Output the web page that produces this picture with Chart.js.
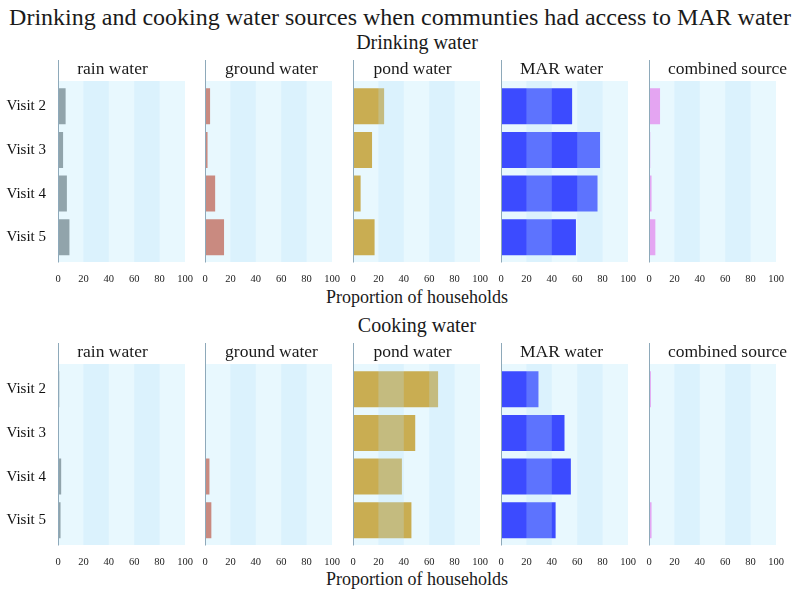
<!DOCTYPE html>
<html>
<head>
<meta charset="utf-8">
<script src="https://cdn.jsdelivr.net/npm/chart.js@4/dist/chart.umd.min.js"></script>
<style>
  body { margin: 0; background: #ffffff; }
  #page { position: relative; width: 800px; height: 593px; overflow: hidden; font-family: 'Liberation Serif', 'Times New Roman', serif; color: #1a1a1a; }
  .lbl { position: absolute; white-space: nowrap; transform: translate(-50%, -50%); line-height: 1; }
  .panel { position: absolute; }
</style>
</head>
<body>
<div id="page">
  <div class="lbl" style="left:400px; top:17px; font-size:24px;">Drinking and cooking water sources when communties had access to MAR water</div>
  <div class="lbl" style="left:417px; top:42px; font-size:20px;">Drinking water</div>
  <div class="lbl" style="left:417px; top:297px; font-size:18px;">Proportion of households</div>
  <div class="lbl" style="left:417px; top:325px; font-size:20px;">Cooking water</div>
  <div class="lbl" style="left:417px; top:579px; font-size:18px;">Proportion of households</div>
</div>
<script>
// Données (proportion des ménages, %)
const visits = ['Visit 2', 'Visit 3', 'Visit 4', 'Visit 5'];
const sources = ['rain water', 'ground water', 'pond water', 'MAR water', 'combined source'];
const sourceColors = ['#91a4ab', '#c98a80', '#c9ad52', '#3c4bff', '#e4a5f2'];
const xTicks = [0, 20, 40, 60, 80, 100];

// Eau de boisson
const drinkRain = [6, 4, 7, 9];
const drinkGround = [4, 2, 8, 15];
const drinkPond = [24.5, 15, 6, 17];
const drinkMar = [56, 78, 76, 59];
const drinkCombined = [8.7, 1, 2, 5];

// Eau de cuisson
const cookRain = [1, 0.5, 2.5, 2];
const cookGround = [0, 0, 3.5, 5];
const cookPond = [67, 49, 38.5, 46];
const cookMar = [29.5, 50, 55, 43];
const cookCombined = [1.5, 0.5, 0, 2];

const drinking = [drinkRain, drinkGround, drinkPond, drinkMar, drinkCombined];
const cooking = [cookRain, cookGround, cookPond, cookMar, cookCombined];

// Mise en page
const axisX = [58, 205, 353, 501, 649];
const rowTop = [56, 338.5];
const titleShift = [-9, 3, -4, -3, 15];
const panelHeight = 245;

Chart.defaults.font.family = "'Liberation Serif', 'Times New Roman', serif";
Chart.defaults.color = '#1a1a1a';

// Bandes de fond + axe vertical + titre du panneau
const bandPlugin = {
    id: 'bands',
    beforeDatasetsDraw(chart) {
        const { ctx, chartArea: a } = chart;
        ctx.save();
        ctx.fillStyle = '#e8f8fe';
        ctx.fillRect(a.left, a.top - 3.5, a.width, a.height + 6.5);
        ctx.restore();
    },
    afterDatasetsDraw(chart, args, opts) {
        const { ctx, chartArea: a, scales: { x } } = chart;
        ctx.save();
        ctx.fillStyle = 'rgba(185, 225, 250, 0.27)';
        [[20, 40], [60, 80]].forEach(([from, to]) => {
            const x0 = x.getPixelForValue(from);
            const x1 = x.getPixelForValue(to);
            ctx.fillRect(x0, a.top - 3.5, x1 - x0, a.height + 6.5);
        });
        // axe
        const x0 = Math.round(x.getPixelForValue(0)) + 0.5;
        ctx.strokeStyle = '#8ea9ba';
        ctx.lineWidth = 1;
        ctx.beginPath();
        ctx.moveTo(x0, a.top - 24.5);
        ctx.lineTo(x0, a.bottom + 3.5);
        ctx.stroke();
        // titre
        ctx.fillStyle = '#1a1a1a';
        ctx.font = "17.5px 'Liberation Serif', 'Times New Roman', serif";
        ctx.textAlign = 'center';
        ctx.textBaseline = 'middle';
        ctx.fillText(opts.title, (a.left + a.right) / 2 + opts.shift, a.top - 15);
        ctx.restore();
    }
};

function createPanel(row, i, values) {
    const first = i === 0;
    const page = document.getElementById('page');
    const canvas = document.createElement('canvas');
    const left = first ? 0 : axisX[i] - 8;
    const width = first ? 202 : 152;
    canvas.className = 'panel';
    canvas.width = width;
    canvas.height = panelHeight;
    canvas.style.left = left + 'px';
    canvas.style.top = rowTop[row] + 'px';
    canvas.style.width = width + 'px';
    canvas.style.height = panelHeight + 'px';
    page.appendChild(canvas);

    new Chart(canvas, {
        type: 'bar',
        data: {
            labels: visits,
            datasets: [{
                data: values,
                backgroundColor: sourceColors[i],
                borderWidth: 0,
                categoryPercentage: 1,
                barPercentage: 0.823
            }]
        },
        options: {
            indexAxis: 'y',
            responsive: false,
            animation: false,
            devicePixelRatio: 1,
            layout: { padding: { left: first ? 0 : 8, right: 17, top: 28.5, bottom: 2 } },
            plugins: {
                legend: { display: false },
                tooltip: { enabled: false },
                bands: { title: sources[i], shift: titleShift[i] }
            },
            scales: {
                x: {
                    min: 0,
                    max: 100,
                    afterBuildTicks: (scale) => { scale.ticks = xTicks.map(v => ({ value: v })); },
                    afterFit: (scale) => { scale.paddingLeft = 0; scale.paddingRight = 0; },
                    grid: { display: false, drawTicks: false },
                    border: { display: false },
                    ticks: { autoSkip: false, maxRotation: 0, padding: 13.7, font: { size: 10.5 }, color: '#222' }
                },
                y: {
                    display: first,
                    grid: { display: false, drawTicks: false },
                    border: { display: false },
                    ticks: { padding: 12, font: { size: 15 }, color: '#111' },
                    afterFit: (scale) => { scale.width = first ? 58 : 0; }
                }
            }
        },
        plugins: [bandPlugin]
    });
}

drinking.forEach((values, i) => createPanel(0, i, values));
cooking.forEach((values, i) => createPanel(1, i, values));
</script>
</body>
</html>
